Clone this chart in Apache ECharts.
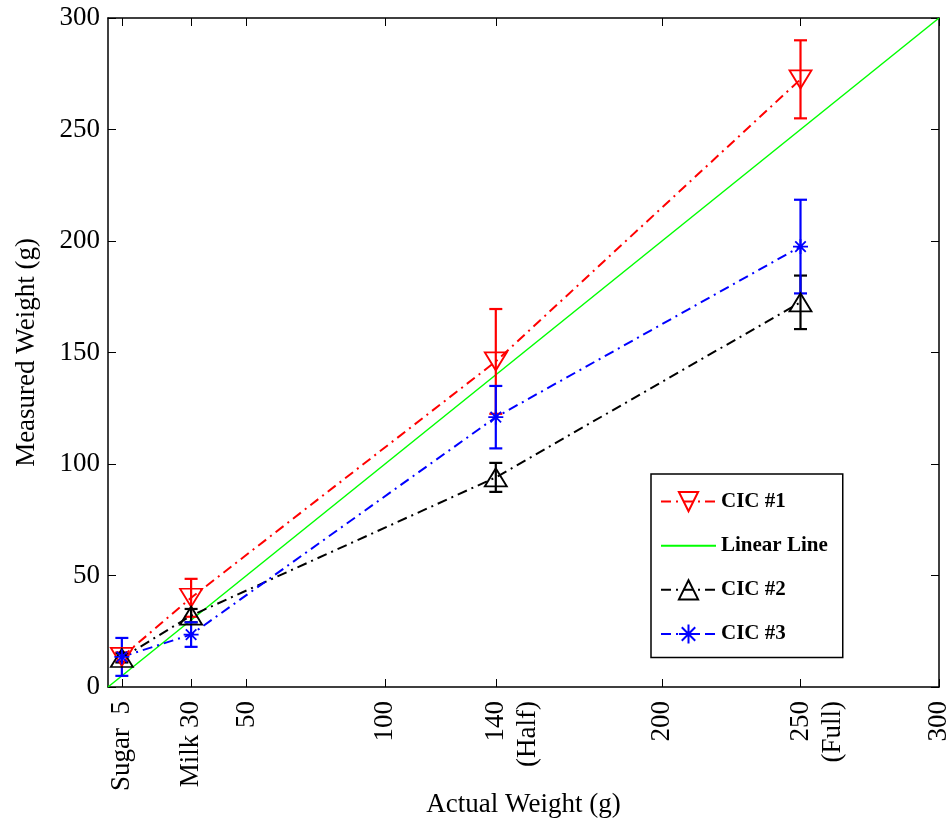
<!DOCTYPE html>
<html>
<head>
<meta charset="utf-8">
<script src="https://cdn.jsdelivr.net/npm/echarts@6/dist/echarts.min.js"></script>
<style>
html,body{margin:0;padding:0;background:#fff;}
#chart{width:951px;height:821px;}
</style>
</head>
<body>
<div id="chart"></div>
<script>
// ---- data ----
const xValues = [5, 30, 140, 250];
const cic1 = [13.5, 40, 146, 272.5];
const cic1Err = [2, 8.5, 23.5, 17.5];
const cic2 = [13, 32, 94, 172.5];
const cic2Err = [2, 3, 6.5, 12];
const cic3 = [13.5, 23.5, 121, 197.5];
const cic3Err = [8.5, 5.5, 14, 21];
const linearX = [0, 300];
const linearY = [0, 300];
const xTickValues = [5, 30, 50, 100, 140, 200, 250, 300];
const xTickLabels = ['Sugar  5', 'Milk 30', '50', '100', '140\n(Half)', '200', '250\n(Full)', '300'];
const seriesNames = ['CIC #1', 'Linear Line', 'CIC #2', 'CIC #3'];

const FONT = '"Liberation Serif", "Times New Roman", serif';
const RED = '#ff0000', GREEN = '#00ff00', BLACK = '#000000', BLUE = '#0000ff';
const DASHDOT = [10, 5, 2, 5];

const pts = (xs, ys) => xs.map((x, i) => [x, ys[i]]);
const errData = (xs, ys, es) => xs.map((x, i) => [x, ys[i] - es[i], ys[i] + es[i]]);

function errSeries(xs, ys, es, color) {
  return {
    type: 'custom',
    silent: true,
    z: 3,
    encode: { x: 0, y: [1, 2] },
    data: errData(xs, ys, es),
    renderItem: function (params, api) {
      const x = api.value(0);
      const lo = api.coord([x, api.value(1)]);
      const hi = api.coord([x, api.value(2)]);
      const w = 6.5;
      const style = { stroke: color, lineWidth: 2.2, fill: null };
      return {
        type: 'group',
        children: [
          { type: 'line', shape: { x1: lo[0], y1: lo[1], x2: hi[0], y2: hi[1] }, style: style },
          { type: 'line', shape: { x1: lo[0] - w, y1: lo[1], x2: lo[0] + w, y2: lo[1] }, style: style },
          { type: 'line', shape: { x1: hi[0] - w, y1: hi[1], x2: hi[0] + w, y2: hi[1] }, style: style }
        ]
      };
    }
  };
}

const DOWN_TRI = 'path://M0,0 L20,0 L10,17 Z';
const UP_TRI = 'path://M10,0 L20,17 L0,17 Z';
const STAR = 'path://M10,0 L10,20 M0,10 L20,10 M3,3 L17,17 M17,3 L3,17';

const chart = echarts.init(document.getElementById('chart'));
const axisLineStyle = { color: '#000', width: 1.5 };

chart.setOption({
  animation: false,
  backgroundColor: '#fff',
  grid: { left: 108, right: 12, top: 18, bottom: 134, containLabel: false, outerBoundsMode: 'none' },
  legend: {
    data: seriesNames,
    orient: 'vertical',
    left: 651,
    top: 474,
    itemWidth: 55,
    itemHeight: 24,
    itemGap: 23,
    padding: [17, 15, 13, 9],
    backgroundColor: '#fff',
    borderColor: '#000',
    borderWidth: 1.5,
    borderRadius: 0,
    textStyle: { fontFamily: FONT, fontWeight: 'bold', fontSize: 21, color: '#000' }
  },
  xAxis: [
    {
      type: 'value', min: 0, max: 300,
      name: 'Actual Weight (g)', nameLocation: 'middle', nameGap: 104, nameMoveOverlap: false,
      nameTextStyle: { fontFamily: FONT, fontSize: 27, color: '#000' },
      axisLine: { show: true, onZero: false, lineStyle: axisLineStyle },
      axisTick: { show: true, inside: true, length: 8, customValues: xTickValues, lineStyle: { color: '#000', width: 1 } },
      axisLabel: {
        customValues: xTickValues, rotate: 90, margin: 14,
        fontFamily: FONT, fontSize: 27, color: '#000', lineHeight: 32,
        formatter: function (v) {
          const i = xTickValues.indexOf(v);
          const s = i >= 0 ? xTickLabels[i] : '';
          return s.indexOf('\n') >= 0 ? ' \n' + s : s;
        }
      },
      splitLine: { show: false }
    },
    {
      type: 'value', min: 0, max: 300, position: 'top',
      axisLine: { show: true, onZero: false, lineStyle: axisLineStyle },
      axisTick: { show: true, inside: true, length: 8, customValues: xTickValues, lineStyle: { color: '#000', width: 1 } },
      axisLabel: { show: false },
      splitLine: { show: false }
    }
  ],
  yAxis: [
    {
      type: 'value', min: 0, max: 300, interval: 50,
      name: 'Measured Weight (g)', nameLocation: 'middle', nameGap: 68, nameMoveOverlap: false,
      nameTextStyle: { fontFamily: FONT, fontSize: 27, color: '#000' },
      axisLine: { show: true, onZero: false, lineStyle: axisLineStyle },
      axisTick: { show: true, inside: true, length: 8, lineStyle: { color: '#000', width: 1 } },
      axisLabel: { margin: 8, fontFamily: FONT, fontSize: 27, color: '#000' },
      splitLine: { show: false }
    },
    {
      type: 'value', min: 0, max: 300, interval: 50, position: 'right',
      axisLine: { show: true, onZero: false, lineStyle: axisLineStyle },
      axisTick: { show: true, inside: true, length: 8, lineStyle: { color: '#000', width: 1 } },
      axisLabel: { show: false },
      splitLine: { show: false }
    }
  ],
  series: [
    {
      name: 'CIC #1', type: 'line', z: 4,
      data: pts(xValues, cic1),
      symbol: DOWN_TRI, symbolSize: [22, 18],
      lineStyle: { color: RED, width: 2, type: DASHDOT },
      itemStyle: { color: 'rgba(255,255,255,0)', borderColor: RED, borderWidth: 1.8 }
    },
    {
      name: 'Linear Line', type: 'line', z: 2,
      data: pts(linearX, linearY),
      symbol: 'circle', symbolSize: 0, showSymbol: false,
      lineStyle: { color: GREEN, width: 1.5, type: 'solid' },
      itemStyle: { color: 'rgba(0,0,0,0)', borderWidth: 0 }
    },
    {
      name: 'CIC #2', type: 'line', z: 4,
      data: pts(xValues, cic2),
      symbol: UP_TRI, symbolSize: [22, 18],
      lineStyle: { color: BLACK, width: 2, type: DASHDOT },
      itemStyle: { color: 'rgba(255,255,255,0)', borderColor: BLACK, borderWidth: 1.8 }
    },
    {
      name: 'CIC #3', type: 'line', z: 4,
      data: pts(xValues, cic3),
      symbol: STAR, symbolSize: [15, 15],
      lineStyle: { color: BLUE, width: 2, type: DASHDOT },
      itemStyle: { color: 'rgba(0,0,255,0)', borderColor: BLUE, borderWidth: 1.8 }
    },
    errSeries(xValues, cic1, cic1Err, RED),
    errSeries(xValues, cic2, cic2Err, BLACK),
    errSeries(xValues, cic3, cic3Err, BLUE)
  ]
});
</script>
</body>
</html>
